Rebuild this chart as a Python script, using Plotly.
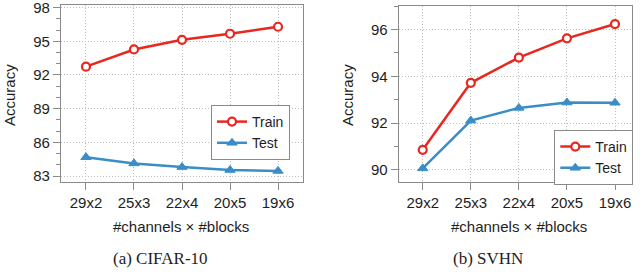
import plotly.graph_objects as go

categories = ["29x2", "25x3", "22x4", "20x5", "19x6"]

cifar_train = [92.74, 94.27, 95.13, 95.67, 96.29]
cifar_test = [84.68, 84.13, 83.80, 83.54, 83.46]

svhn_train = [90.86, 93.72, 94.80, 95.62, 96.23]
svhn_test = [90.07, 92.11, 92.65, 92.88, 92.87]

cifar_ticks = [83, 86, 89, 92, 95, 98]
svhn_ticks = [90, 92, 94, 96]

RED = "#e8271f"
BLUE = "#3a8dc6"
W, H = 640, 276
SANS = "Liberation Sans, Arial, sans-serif"
SERIF = "Liberation Serif, DejaVu Serif, serif"
TXT = "#1e1e1e"

fig = go.Figure()

def add_pair(train, test, xa, ya, legend):
    fig.add_trace(go.Scatter(
        x=categories, y=train, name="Train", mode="lines+markers",
        xaxis=xa, yaxis=ya, legend=legend,
        line=dict(color=RED, width=2.5),
        marker=dict(symbol="circle", size=8, color="white",
                    line=dict(color=RED, width=2.2)),
    ))
    fig.add_trace(go.Scatter(
        x=categories, y=test, name="Test", mode="lines+markers",
        xaxis=xa, yaxis=ya, legend=legend,
        line=dict(color=BLUE, width=2.5),
        marker=dict(symbol="triangle-up", size=9, color=BLUE,
                    line=dict(color=BLUE, width=1)),
    ))

add_pair(cifar_train, cifar_test, "x", "y", "legend")
add_pair(svhn_train, svhn_test, "x2", "y2", "legend2")

axis_common = dict(
    showline=True, linecolor="#8a8a8a", linewidth=1.2, mirror=True,
    showgrid=True, gridcolor="#bdbdbd", griddash="1px,2px", gridwidth=1,
    ticks="outside", tickcolor="#8a8a8a", ticklen=7, tickwidth=1.2,
    tickfont=dict(family=SANS, size=15, color=TXT),
    zeroline=False, ticklabeloverflow="allow", automargin=False,
)

def y_dom(top_px, bot_px):
    return [1 - bot_px / H, 1 - top_px / H]

leg_common = dict(xanchor="right", yanchor="top",
                  bgcolor="white", bordercolor="#8a8a8a", borderwidth=1,
                  font=dict(family=SANS, size=14, color=TXT),
                  tracegroupgap=0, itemwidth=30)

fig.update_layout(
    width=W, height=H,
    margin=dict(l=0, r=0, t=0, b=0, autoexpand=False),
    paper_bgcolor="white", plot_bgcolor="white",
    xaxis=dict(domain=[61 / W, 303 / W], anchor="y", range=[-0.52, 4.52],
               type="category", **axis_common),
    yaxis=dict(domain=y_dom(5.3, 181.7), anchor="x", range=[82.5, 98.2],
               tickvals=cifar_ticks,
               minor=dict(dtick=1, tick0=83, ticks="outside", ticklen=4,
                          tickcolor="#8a8a8a", showgrid=False),
               **axis_common),
    xaxis2=dict(domain=[398.7 / W, 632.3 / W], anchor="y2", range=[-0.5, 4.36],
                type="category", **axis_common),
    yaxis2=dict(domain=y_dom(6, 181.7), anchor="x2", range=[89.5, 97.0],
                tickvals=svhn_ticks,
                minor=dict(dtick=1, tick0=90, ticks="outside", ticklen=4,
                           tickcolor="#8a8a8a", showgrid=False),
                **axis_common),
    legend=dict(x=290 / W, y=1 - 105 / H, **leg_common),
    legend2=dict(x=633.3 / W, y=1 - 130 / H, **leg_common),
    showlegend=True,
)

ann = []
def txt(x, y, s, font, angle=0):
    ann.append(dict(x=x / W, y=1 - y / H, xref="paper", yref="paper", text=s,
                    showarrow=False, font=font, textangle=angle,
                    xanchor="center", yanchor="middle"))

sans15 = dict(family=SANS, size=15, color=TXT)
serif17 = dict(family=SERIF, size=17, color=TXT)
txt(181, 226, "#channels × #blocks", sans15)
txt(519, 226, "#channels × #blocks", sans15)
txt(9, 95, "Accuracy", sans15, -90)
txt(347, 95, "Accuracy", sans15, -90)
txt(160, 258, "(a) CIFAR-10", serif17)
txt(487.5, 258, "(b) SVHN", serif17)
fig.update_layout(annotations=ann)

fig.write_html("out.html", config={"displayModeBar": False},
               post_script="document.body.style.margin='0';document.body.style.padding='0';")
